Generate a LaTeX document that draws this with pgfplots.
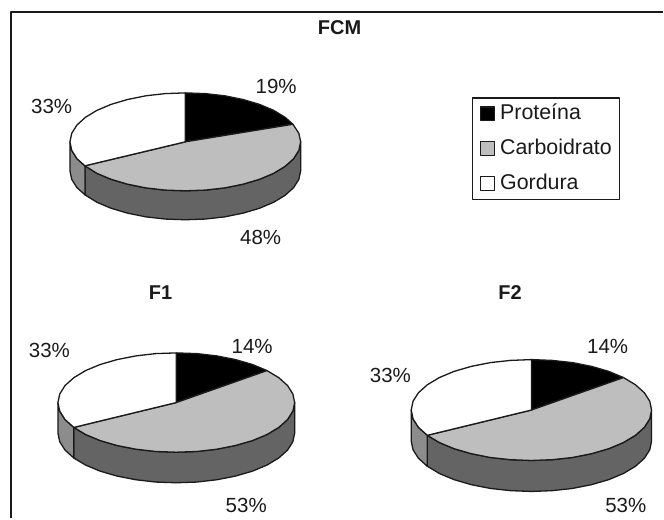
\documentclass[border=0pt]{standalone}
\usepackage{pgfplots}
\pgfplotsset{compat=1.18}
\usepackage{fontspec}
\setmainfont{Liberation Sans}

\definecolor{ink}{HTML}{1A1A1A}
\definecolor{midgray}{HTML}{BEBEBE}
\definecolor{sidedark}{HTML}{646464}
\definecolor{sidelight}{HTML}{8C8C8C}

\tikzset{
    lab/.style={font=\fontsize{20.5}{24}\selectfont, text=ink, inner sep=0pt},
    leg/.style={font=\fontsize{21.4}{25}\selectfont, text=ink, inner sep=0pt, anchor=base west},
    ttl/.style={font=\fontsize{20}{24}\selectfont\bfseries, text=ink, inner sep=0pt},
}

\begin{document}
\begin{tikzpicture}
\begin{axis}[
    width=664pt, height=519pt,
    scale only axis,
    xmin=0, xmax=664,
    ymin=0, ymax=519,
    y dir=reverse,
    hide axis,
    clip=false,
    every axis plot/.append style={draw=ink, line width=1.3pt, line join=round},
]
\path (rel axis cs:0,0) rectangle (rel axis cs:1,1);

% frame, no right or bottom side
\addplot[line width=1.5pt] coordinates {(11,519) (11,12) (664,12)};

% FCM
\addplot[fill=sidedark] coordinates {(301,142)(299.2,150.5)(294,158.8)(285.5,166.5)(274,173.5)(259.8,179.5)(243.3,184.4)(225,188.1)(205.6,190.3)(185.5,191)(165.4,190.3)(146,188.1)(127.7,184.4)(111.2,179.5)(97,173.5)(85,166)
 (85,195)(97,202.5)(111.2,208.5)(127.7,213.4)(146,217.1)(165.4,219.3)(185.5,220)(205.6,219.3)(225,217.1)(243.3,213.4)(259.8,208.5)(274,202.5)(285.5,195.5)(294,187.8)(299.2,179.5)(301,171)} -- cycle;
\addplot[fill=sidelight] coordinates {(85,166)(77,158.8)(71.8,150.5)(70,142)(70,171)(71.8,179.5)(77,187.8)(85,195)} -- cycle;
\addplot[fill=black] coordinates {(185.5,142)(185.5,93)(205.6,93.7)(225,95.9)(243.3,99.6)(259.8,104.5)(274,110.5)(285.5,117.5)(293.3,124.4)} -- cycle;
\addplot[fill=midgray] coordinates {(185.5,142)(293.3,124.4)(299.2,133.5)(301,142)(299.2,150.5)(294,158.8)(285.5,166.5)(274,173.5)(259.8,179.5)(243.3,184.4)(225,188.1)(205.6,190.3)(185.5,191)(165.4,190.3)(146,188.1)(127.7,184.4)(111.2,179.5)(97,173.5)(85,166)} -- cycle;
\addplot[fill=white] coordinates {(185.5,142)(85,166)(77,158.8)(71.8,150.5)(70,142)(71.8,133.5)(77,125.2)(85.5,117.5)(97,110.5)(111.2,104.5)(127.7,99.6)(146,95.9)(165.4,93.7)(185.5,93)} -- cycle;

% F1
\addplot[fill=sidedark] coordinates {(295,403)(293.2,411.6)(287.9,420)(279.1,427.9)(267.3,435)(252.7,441.1)(235.8,446)(217,449.7)(197.1,452)(176.5,452.7)(155.9,452)(136,449.7)(117.2,446)(100.3,441.1)(85.7,435)(73.9,427.9)
 (73.9,458.5)(85.7,465.6)(100.3,471.7)(117.2,476.6)(136,480.3)(155.9,482.6)(176.5,483.3)(197.1,482.6)(217,480.3)(235.8,476.6)(252.7,471.7)(267.3,465.6)(279.1,458.5)(287.9,450.6)(293.2,442.2)(295,433.6)} -- cycle;
\addplot[fill=sidelight] coordinates {(73.9,427.9)(65.1,420)(59.8,411.6)(58,403)(58,433.6)(59.8,442.2)(65.1,450.6)(73.9,458.5)} -- cycle;
\addplot[fill=black] coordinates {(176.5,403)(176.5,353.3)(197.1,354)(217,356.3)(235.8,360)(252.7,364.9)(267.3,371)} -- cycle;
\addplot[fill=midgray] coordinates {(176.5,403)(267.3,371)(279.1,378.1)(287.9,386)(293.2,394.4)(295,403)(293.2,411.6)(287.9,420)(279.1,427.9)(267.3,435)(252.7,441.1)(235.8,446)(217,449.7)(197.1,452)(176.5,452.7)(155.9,452)(136,449.7)(117.2,446)(100.3,441.1)(85.7,435)(73.9,427.9)} -- cycle;
\addplot[fill=white] coordinates {(176.5,403)(73.9,427.9)(65.1,420)(59.8,411.6)(58,403)(59.8,394.4)(65.1,386)(73.9,378.1)(85.7,371)(100.3,364.9)(117.2,360)(136,356.3)(155.9,354)(176.5,353.3)} -- cycle;

% F2
\addplot[fill=sidedark] coordinates {(652.3,410.5)(650.5,419.3)(645.1,427.8)(636.2,435.8)(624.2,443)(609.4,449.2)(592.2,454.2)(573.1,458)(552.9,460.2)(532,461)(511.1,460.2)(490.9,458)(471.8,454.2)(454.6,449.2)(439.8,443)(427.8,435.8)
 (427.8,466.8)(439.8,474)(454.6,480.2)(471.8,485.2)(490.9,489)(511.1,491.2)(532,492)(552.9,491.2)(573.1,489)(592.2,485.2)(609.4,480.2)(624.2,474)(636.2,466.8)(645.1,458.8)(650.5,450.3)(652.3,441.5)} -- cycle;
\addplot[fill=sidelight] coordinates {(427.8,435.8)(418.9,427.8)(413.5,419.3)(411.7,410.5)(411.7,441.5)(413.5,450.3)(418.9,458.8)(427.8,466.8)} -- cycle;
\addplot[fill=black] coordinates {(532,410.5)(532,360)(552.9,360.8)(573.1,363)(592.2,366.8)(609.4,371.8)(624.2,378)} -- cycle;
\addplot[fill=midgray] coordinates {(532,410.5)(624.2,378)(636.2,385.2)(645.1,393.2)(650.5,401.7)(652.3,410.5)(650.5,419.3)(645.1,427.8)(636.2,435.8)(624.2,443)(609.4,449.2)(592.2,454.2)(573.1,458)(552.9,460.2)(532,461)(511.1,460.2)(490.9,458)(471.8,454.2)(454.6,449.2)(439.8,443)(427.8,435.8)} -- cycle;
\addplot[fill=white] coordinates {(532,410.5)(427.8,435.8)(418.9,427.8)(413.5,419.3)(411.7,410.5)(413.5,401.7)(418.9,393.2)(427.8,385.2)(439.8,378)(454.6,371.8)(471.8,366.8)(490.9,363)(511.1,360.8)(532,360)} -- cycle;

% legend box and swatches
\addplot[fill=white, line width=1.4pt] coordinates {(473,98)(620,98)(620,200)(473,200)} -- cycle;
\addplot[fill=black] coordinates {(481,107)(495,107)(495,120.5)(481,120.5)} -- cycle;
\addplot[fill=midgray] coordinates {(481,142)(495,142)(495,155.5)(481,155.5)} -- cycle;
\addplot[fill=white] coordinates {(481,177)(495,177)(495,190.5)(481,190.5)} -- cycle;

\node[leg] at (axis cs:500.5,120) {Proteína};
\node[leg] at (axis cs:500.5,155) {Carboidrato};
\node[leg] at (axis cs:500.5,190) {Gordura};

% titles
\node[ttl] at (axis cs:340,28) {FCM};
\node[ttl] at (axis cs:160.7,292.7) {F1};
\node[ttl] at (axis cs:510.7,292.7) {F2};

% value labels
\node[lab] at (axis cs:276.5,87) {19\%};
\node[lab] at (axis cs:51.7,107) {33\%};
\node[lab] at (axis cs:261,238) {48\%};
\node[lab] at (axis cs:252.5,347) {14\%};
\node[lab] at (axis cs:49.5,350.7) {33\%};
\node[lab] at (axis cs:246.5,506) {53\%};
\node[lab] at (axis cs:608.3,347) {14\%};
\node[lab] at (axis cs:390.8,376) {33\%};
\node[lab] at (axis cs:626.5,506) {53\%};
\end{axis}
\end{tikzpicture}
\end{document}
